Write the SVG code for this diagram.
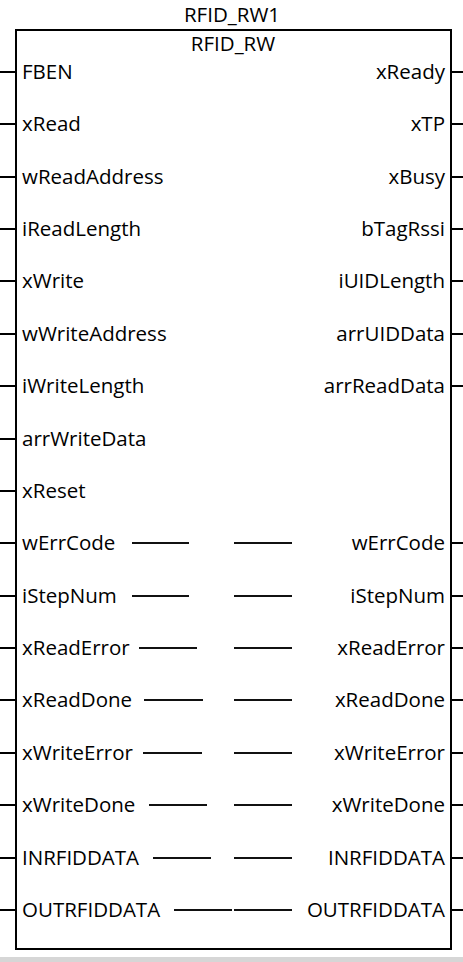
<svg xmlns="http://www.w3.org/2000/svg" width="463" height="962" viewBox="0 0 463 962">
<style>
text{font-family:"Open Sans","Noto Sans","Liberation Sans",sans-serif;font-size:20.5px;fill:#000}
.r{text-anchor:end}
.c{text-anchor:middle}
.pin{stroke:#000;stroke-width:2;fill:none}
.mid{stroke:#111;stroke-width:2;fill:none}
</style>
<rect x="0" y="0" width="463" height="962" fill="#fff"/>
<rect x="0" y="957" width="463" height="5" fill="#d6d6d6"/>
<g id="block">
<text class="c" x="232" y="22">RFID_RW1</text>
<rect x="16" y="30" width="435" height="919" fill="#fff" stroke="#000" stroke-width="2"/>
<text class="c" x="233" y="51">RFID_RW</text>
</g>
<g id="inputs">
<text x="22" y="79">FBEN</text>
<text x="22" y="131">xRead</text>
<text x="22" y="184">wReadAddress</text>
<text x="22" y="236">iReadLength</text>
<text x="22" y="288">xWrite</text>
<text x="22" y="341">wWriteAddress</text>
<text x="22" y="393">iWriteLength</text>
<text x="22" y="446">arrWriteData</text>
<text x="22" y="498">xReset</text>
<text x="22" y="550">wErrCode</text>
<text x="22" y="603">iStepNum</text>
<text x="22" y="655">xReadError</text>
<text x="22" y="707">xReadDone</text>
<text x="22" y="760">xWriteError</text>
<text x="22" y="812">xWriteDone</text>
<text x="22" y="865">INRFIDDATA</text>
<text x="22" y="917">OUTRFIDDATA</text>
</g>
<g id="outputs">
<text class="r" x="445" y="79">xReady</text>
<text class="r" x="445" y="131">xTP</text>
<text class="r" x="445" y="184">xBusy</text>
<text class="r" x="445" y="236">bTagRssi</text>
<text class="r" x="445" y="288">iUIDLength</text>
<text class="r" x="445" y="341">arrUIDData</text>
<text class="r" x="445" y="393">arrReadData</text>
<text class="r" x="445" y="550">wErrCode</text>
<text class="r" x="445" y="603">iStepNum</text>
<text class="r" x="445" y="655">xReadError</text>
<text class="r" x="445" y="707">xReadDone</text>
<text class="r" x="445" y="760">xWriteError</text>
<text class="r" x="445" y="812">xWriteDone</text>
<text class="r" x="445" y="865">INRFIDDATA</text>
<text class="r" x="445" y="917">OUTRFIDDATA</text>
</g>
<g id="connectors">
<path class="pin" d="M0 72H16M0 124H16M0 177H16M0 229H16M0 281H16M0 334H16M0 386H16M0 439H16M0 491H16M0 543H16M0 596H16M0 648H16M0 700H16M0 753H16M0 805H16M0 858H16M0 910H16"/>
<path class="pin" d="M451 72H463M451 124H463M451 177H463M451 229H463M451 281H463M451 334H463M451 386H463M451 543H463M451 596H463M451 648H463M451 700H463M451 753H463M451 805H463M451 858H463M451 910H463"/>
<path class="mid" d="M132 543H189M132 596H189M139 648H197M144 700H203M143 753H202M149 805H207M153 858H211M174 910H232"/>
<path class="mid" d="M234 543H292M234 596H292M234 648H292M234 700H292M234 753H292M234 805H292M234 858H292M234 910H292"/>
</g>
</svg>
